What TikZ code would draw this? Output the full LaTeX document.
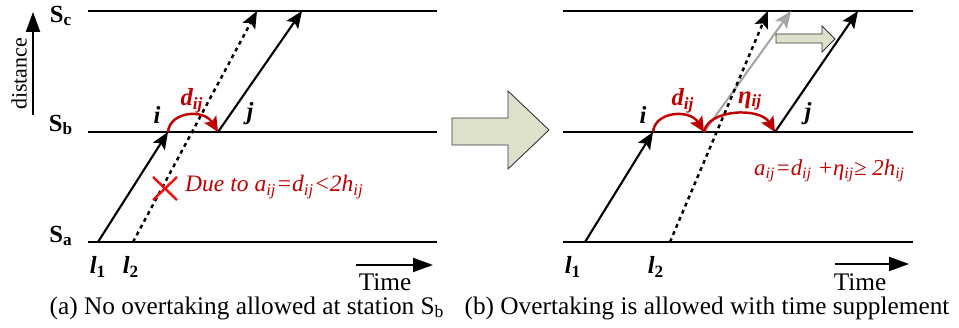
\documentclass[tikz,border=0pt]{standalone}
\usepackage{fontspec}
\setmainfont{Liberation Serif}
\usetikzlibrary{arrows.meta,positioning}
\definecolor{supp}{HTML}{C00000}
\definecolor{cross}{HTML}{F01010}
\definecolor{hollow}{HTML}{DDE1CB}

\begin{document}
\begin{tikzpicture}[x=0.02cm,y=-0.02cm,
  station/.style={line width=1.2pt},
  train/.style={line width=1.2pt, -{Stealth[length=3.4mm,width=2.8mm,inset=0.7mm]}},
  later/.style={line width=1.4pt, dash pattern=on 2.2pt off 2.2pt, -{Stealth[length=3.4mm,width=2.8mm,inset=0.7mm]}},
  ghost/.style={line width=1.2pt, black!35, -{Stealth[length=3.4mm,width=2.8mm,inset=0.7mm]}},
  dwell/.style={line width=1.4pt, supp, -{Stealth[length=3mm,width=2.8mm,inset=0.6mm]}},
  timeax/.style={line width=1.2pt, -{Triangle[length=4mm,width=2.8mm]}},
  stn/.style={font=\fontsize{14}{16}\selectfont\bfseries},
  trn/.style={font=\fontsize{14}{16}\selectfont\bfseries\itshape},
  note/.style={font=\fontsize{13.4}{16}\selectfont\itshape, text=supp, anchor=west},
  capt/.style={font=\fontsize{14.4}{16}\selectfont, inner sep=0.5pt},
  bigarrow/.style={draw=black!80, line width=0.5pt, fill=hollow}]
% station lines of both panels
\foreach \s/\y in {c/10,b/131,a/241}{
  \coordinate (L\s-w) at (88,\y); \coordinate (L\s-e) at (437,\y);
  \coordinate (R\s-w) at (563,\y); \coordinate (R\s-e) at (913,\y);
  \draw[station] (L\s-w) -- (L\s-e);
  \draw[station] (R\s-w) -- (R\s-e);
}
\node[stn] (Sc) at (61,15) {S\textsubscript{c}};
\node[stn] (Sb) at (61,124) {S\textsubscript{b}};
\node[stn] (Sa) at (61,235) {S\textsubscript{a}};
% distance axis
\coordinate (dist-s) at (33,114);
\coordinate (dist-e) at (33,11);
\draw[timeax] (dist-s) -- (dist-e);
\node[font=\fontsize{12.5}{14}\selectfont, rotate=90] (dist) at (19,73) {distance};
% (a) no overtaking
\coordinate (Li-dep) at (98,241);
\coordinate (Li-arr) at (168,131);
\coordinate (Lj-dep) at (218,131);
\coordinate (Lj-arr) at (302,10);
\coordinate (Ll2-dep) at (133,241);
\coordinate (Ll2-arr) at (257,10);
\draw[later] (Ll2-dep) -- (Ll2-arr);
\draw[train] (Li-dep) -- (Li-arr);
\draw[train] (Lj-dep) -- (Lj-arr);
\draw[dwell] (Li-arr) .. controls (170,110) and (204,108) .. (Lj-dep);
\node[trn] (Li) at (157,114) {i};
\node[trn] (Lj) at (250,113) {j};
\node[trn, text=supp] (Ld) at (192,100) {d\textsubscript{ij}};
\node[trn] (Ll1) at (98,266) {l\textsubscript{\upshape 1}};
\node[trn] (Ll2) at (131,266) {l\textsubscript{\upshape 2}};
\coordinate (x1) at (153,176); \coordinate (x2) at (177,199);
\coordinate (x3) at (153,199); \coordinate (x4) at (177,176);
\draw[cross, line width=1.4pt] (x1) -- (x2);
\draw[cross, line width=1.4pt] (x3) -- (x4);
\node[note] (Lnote) at (179,186) {Due to a\textsubscript{ij}=d\textsubscript{ij}<2h\textsubscript{ij}};
\coordinate (Lt-s) at (356,264); \coordinate (Lt-e) at (433,264);
\draw[timeax] (Lt-s) -- (Lt-e);
\node[capt] (Ltime) at (385,281) {Time};
\node[capt] (Lcap) at (247,307) {(a) No overtaking allowed at station S\textsubscript{b}};
% transition arrow
\draw[bigarrow] (452,117) -- (508,117) -- (508,90) -- (549,129)
  -- (508,168) -- (508,144) -- (452,144) -- cycle;
% (b) overtaking with time supplement
\coordinate (Ri-dep) at (585,241);
\coordinate (Ri-arr) at (653,131);
\coordinate (Rd-end) at (704,131);
\coordinate (Rj-dep) at (775,131);
\coordinate (Rj-arr) at (858,10);
\coordinate (Rg-arr) at (791,10);
\coordinate (Rl2-dep) at (670,241);
\coordinate (Rl2-arr) at (768,10);
\draw[ghost] (Rd-end) -- (Rg-arr);
\draw[later] (Rl2-dep) -- (Rl2-arr);
\draw[train] (Ri-dep) -- (Ri-arr);
\draw[train] (Rj-dep) -- (Rj-arr);
\draw[dwell] (Ri-arr) .. controls (655,110) and (690,108) .. (Rd-end);
\draw[dwell] (Rd-end) .. controls (708,108) and (760,106) .. (Rj-dep);
\node[trn] (Ri) at (643,114) {i};
\node[trn] (Rj) at (808,113) {j};
\node[trn, text=supp] (Rd) at (683,100) {d\textsubscript{ij}};
\node[trn, text=supp] (Reta) at (750,100) {η\textsubscript{ij}};
\node[trn] (Rl1) at (573,266) {l\textsubscript{\upshape 1}};
\node[trn] (Rl2) at (656,266) {l\textsubscript{\upshape 2}};
\draw[bigarrow] (776,33) -- (822,33) -- (822,25) -- (835,38)
  -- (822,51) -- (822,42) -- (776,42) -- cycle;
\node[note, font=\fontsize{13}{16}\selectfont\itshape] (Rnote) at (748,170) {a\textsubscript{ij}=d\textsubscript{ij} +η\textsubscript{ij}≥ 2h\textsubscript{ij}};
\coordinate (Rt-s) at (835,263); \coordinate (Rt-e) at (909,263);
\draw[timeax] (Rt-s) -- (Rt-e);
\node[capt] (Rtime) at (860,281) {Time};
\node[capt] (Rcap) at (707,307) {(b) Overtaking is allowed with time supplement};
\useasboundingbox (0,0) rectangle (959,327);
\end{tikzpicture}
\end{document}
